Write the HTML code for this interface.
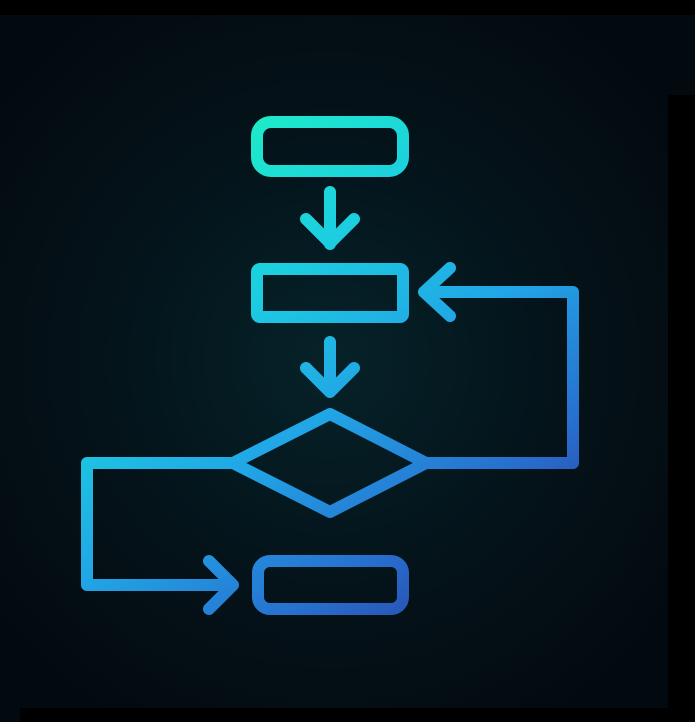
<!DOCTYPE html>
<html><head><meta charset="utf-8"><style>
html,body{margin:0;padding:0;background:#000;}
body{width:695px;height:722px;overflow:hidden;position:relative;}
</style></head><body>
<svg width="695" height="722" viewBox="0 0 695 722" xmlns="http://www.w3.org/2000/svg" style="position:absolute;left:0;top:0">
<defs>
<radialGradient id="bg" cx="330" cy="360" r="420" gradientUnits="userSpaceOnUse">
<stop offset="0" stop-color="#062229"/>
<stop offset="0.5" stop-color="#04141b"/>
<stop offset="1" stop-color="#030a0f"/>
</radialGradient>
<linearGradient id="g" x1="200" y1="110" x2="530" y2="590" gradientUnits="userSpaceOnUse">
<stop offset="0" stop-color="#1ef2c2"/>
<stop offset="0.3" stop-color="#1ccfe0"/>
<stop offset="0.55" stop-color="#21a6e6"/>
<stop offset="0.8" stop-color="#2770cf"/>
<stop offset="1" stop-color="#2a42a8"/>
</linearGradient>
</defs>
<rect x="0" y="0" width="695" height="722" fill="#000"/>
<rect x="0" y="15" width="668" height="693" fill="url(#bg)"/>
<rect x="0" y="15" width="695" height="80" fill="url(#bg)"/>
<rect x="0" y="708" width="20" height="14" fill="url(#bg)"/>
<g fill="none" stroke="url(#g)" stroke-width="12" stroke-linecap="round" stroke-linejoin="round">
<rect x="257" y="122" width="146" height="49" rx="14"/>
<path d="M330 192 V244 M306 219 L330 243 L354 219"/>
<rect x="257" y="269" width="146" height="48" rx="3"/>
<path d="M330 342 V390 M306 368 L330 392 L354 368"/>
<path d="M233 463 L330 414 L426 463 L330 512 Z"/>
<path d="M233 463 H87 V585 H232 M209 561 L233 585 L209 609"/>
<path d="M426 463 H573 V292 H424 M450 268 L424 292 L450 316"/>
<rect x="258" y="561" width="145" height="48" rx="12"/>
</g>
</svg>
</body></html>
